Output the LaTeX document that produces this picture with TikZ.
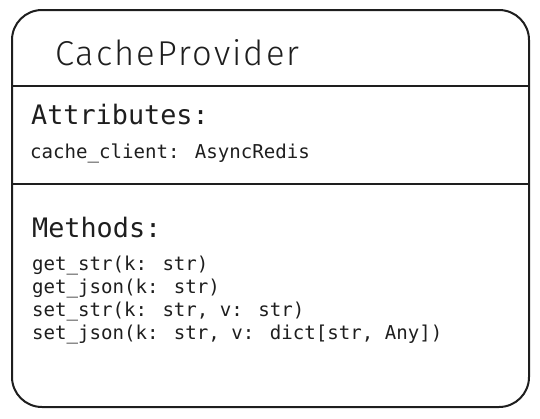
\documentclass[tikz,border=0pt]{standalone}
\usepackage{fontspec}
\newfontfamily\titlefont{Fira Sans Light}[LetterSpace=6]
\newfontfamily\codefont{DejaVu Sans Mono}
\definecolor{ink}{HTML}{1E1E1E}
\begin{document}
\begin{tikzpicture}[x=1pt,y=-1pt,
  outline/.style={draw=ink,line width=2pt},
  divider/.style={draw=ink,line width=2pt},
  titletext/.style={anchor=base west,inner sep=0pt,text=ink,font=\titlefont\fontsize{34.5}{40}\selectfont},
  headtext/.style={anchor=base west,inner sep=0pt,text=ink,font=\codefont\fontsize{26.8}{30}\selectfont},
  codetext/.style={anchor=base west,inner sep=0pt,text=ink,font=\codefont\fontsize{19.1}{23}\selectfont}]
\useasboundingbox (0,0) rectangle (540,418);
\draw[outline,rounded corners=30pt] (12,10) rectangle (529,407);
\coordinate (d1l) at (12,86);
\coordinate (d1r) at (529,86);
\coordinate (d2l) at (12,184);
\coordinate (d2r) at (529,184);
\draw[divider] (d1l) -- (d1r);
\draw[divider] (d2l) -- (d2r);
\node[titletext] (title) at (55,65) {CacheProvider};
\node[headtext] (attr) at (31,124) {Attributes:};
\node[codetext] (a1) at (30,158) {cache\_client: AsyncRedis};
\node[headtext] (meth) at (32,237) {Methods:};
\node[codetext] (m1) at (32,270) {get\_str(k: str)};
\node[codetext] (m2) at (32,293) {get\_json(k: str)};
\node[codetext] (m3) at (32,316) {set\_str(k: str, v: str)};
\node[codetext] (m4) at (32,339) {set\_json(k: str, v: dict[str, Any])};
\end{tikzpicture}
\end{document}
